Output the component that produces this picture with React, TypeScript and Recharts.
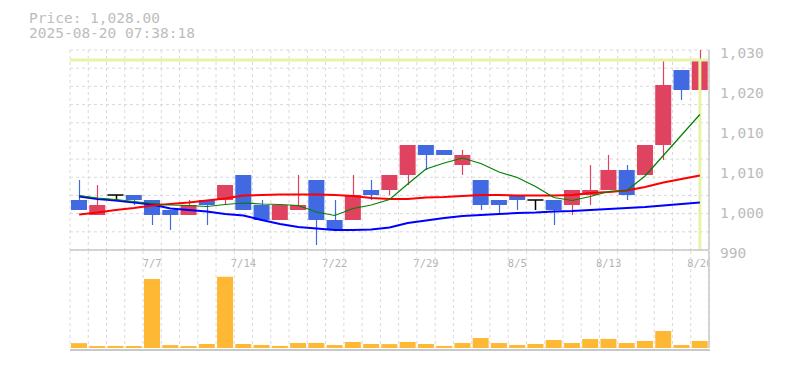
import React from "react";
import {
  ComposedChart,
  Bar,
  Line,
  XAxis,
  YAxis,
  CartesianGrid,
  ReferenceLine,
} from "recharts";

const dates = [
  "7/1", "7/2", "7/3", "7/4", "7/7", "7/8", "7/9", "7/10", "7/11", "7/14",
  "7/15", "7/16", "7/17", "7/18", "7/22", "7/23", "7/24", "7/25", "7/28", "7/29",
  "7/30", "7/31", "8/1", "8/4", "8/5", "8/6", "8/7", "8/8", "8/12", "8/13",
  "8/14", "8/15", "8/18", "8/19", "8/20",
];
const opens = [
  1000, 997, 1001, 1001, 1000, 998, 997, 1000, 1000, 1005,
  999, 996, 998, 1004, 996, 996, 1002, 1002, 1005, 1011,
  1010, 1007, 1004, 1000, 1001, 1000, 1000, 999, 1001, 1002,
  1006, 1005, 1011, 1026, 1022,
];
const highs = [
  1004, 1003, 1001, 1001, 1000, 998, 1000, 1000, 1003, 1005,
  1000, 999, 1005, 1004, 1000, 1005, 1004, 1005, 1011, 1011,
  1010, 1010, 1004, 1000, 1001, 1000, 1000, 1002, 1007, 1009,
  1007, 1011, 1028, 1026, 1030,
];
const lows = [
  998, 997, 1000, 999, 995, 994, 997, 995, 999, 998,
  996, 996, 998, 991, 994, 996, 1000, 1001, 1003, 1006,
  1009, 1005, 998, 997, 998, 998, 995, 997, 999, 1002,
  1000, 1005, 1008, 1020, 1021,
];
const closes = [
  998, 999, 1001, 1000, 997, 997, 999, 999, 1003, 998,
  996, 999, 999, 996, 994, 1001, 1001, 1005, 1011, 1009,
  1009, 1009, 999, 999, 1000, 1000, 998, 1002, 1002, 1006,
  1001, 1011, 1023, 1022, 1028,
];
const ma5 = [
  1000.9, 1000.4, 1000.1, 999.7, 999.3, 999.0, 998.9, 998.7, 999.1, 999.4,
  999.2, 999.1, 998.9, 997.6, 996.9, 998.3, 999.0, 1000.1, 1003.2, 1006.2,
  1007.4, 1008.4, 1007.3, 1005.6, 1004.5, 1002.7, 1000.5, 999.9, 1000.7, 1001.7,
  1001.9, 1004.8, 1008.9, 1013.0, 1017.1,
];
const ma25 = [
  997.1, 997.5, 998.0, 998.4, 998.9, 999.2, 999.5, 999.9, 1000.3, 1000.9,
  1001.0, 1001.1, 1001.1, 1001.1, 1001.0, 1000.8, 1000.4, 1000.2, 1000.2, 1000.5,
  1000.6, 1000.8, 1001.0, 1001.0, 1000.9, 1000.9, 1000.9, 1001.0, 1001.4, 1001.6,
  1001.9, 1002.6, 1003.5, 1004.2, 1004.9,
];
const ma75 = [
  1000.7, 1000.2, 999.9, 999.5, 999.1, 998.3, 998.0, 997.7, 997.2, 996.9,
  996.0, 995.2, 994.6, 994.3, 994.0, 994.0, 994.1, 994.5, 995.4, 995.9,
  996.4, 996.8, 997.0, 997.2, 997.4, 997.5, 997.7, 997.8, 998.0, 998.2,
  998.4, 998.6, 998.9, 999.2, 999.5,
];
const volumes = [
  200, 80, 85, 80, 2850, 120, 80, 165, 2940, 165,
  125, 85, 205, 210, 125, 250, 165, 160, 250, 165,
  85, 205, 410, 205, 125, 165, 330, 205, 370, 375,
  205, 290, 700, 125, 290,
];
const xLabels = ["7/7", "7/14", "7/22", "7/29", "8/5", "8/13", "8/20"];
const priceTicks = [990, 998, 1006, 1014, 1022, 1030];
const currentPrice = 1028;
const timestamp = "2025-08-20 07:38:18";

const upColor = "#E0435F";
const downColor = "#4169E1";
const volColor = "#FFB833";
const gridColor = "#dadada";
const frameColor = "#c8c8c8";
const priceLineColor = "#e5f4a8";
const mono = "'DejaVu Sans Mono', monospace";

const data = dates.map((date, i) => ({
  date,
  open: opens[i],
  high: highs[i],
  low: lows[i],
  close: closes[i],
  ma5: ma5[i],
  ma25: ma25[i],
  ma75: ma75[i],
  volume: volumes[i],
}));

// grid lines sit on the band edges, not on the ticks
const vGen = ({ offset }: any) =>
  Array.from({ length: dates.length + 1 }, (_, i) => offset.left + (i * offset.width) / dates.length);
const hGen = ({ offset }: any) =>
  Array.from({ length: 12 }, (_, i) => offset.top + (i * offset.height) / 11);

function Candle(props: any) {
  const { x, y, width, height, payload } = props;
  const { open, close, high, low } = payload;
  const top = Math.min(y, y + height);
  const h = Math.abs(height);
  const ppu = h / (high - low);
  const py = (p: number) => top + (high - p) * ppu;
  const cx = Math.round(x + width / 2) + 0.5;
  if (open === close) {
    return (
      <g>
        <line x1={cx} x2={cx} y1={py(high)} y2={py(low)} stroke="#000" strokeWidth={1.5} />
        <line x1={x} x2={x + width} y1={py(open)} y2={py(open)} stroke="#000" strokeWidth={1.5} />
      </g>
    );
  }
  const color = close > open ? upColor : downColor;
  const bTop = py(Math.max(open, close));
  const bBot = py(Math.min(open, close));
  return (
    <g>
      <line x1={cx} x2={cx} y1={py(high)} y2={py(low)} stroke={color} strokeWidth={1.2} />
      <rect x={x} y={bTop} width={width} height={bBot - bTop} fill={color} />
    </g>
  );
}

function DateTick(props: any) {
  const { x, y, payload, index } = props;
  return (
    <g>
      {index === 0 && (
        <defs>
          <clipPath id="xlabclip">
            <rect x={70} y={240} width={639} height={40} />
          </clipPath>
        </defs>
      )}
      {xLabels.includes(payload.value) && (
        <text
          x={x}
          y={y + 16.5}
          textAnchor="middle"
          fill="#b4b4b4"
          fontSize={10.5}
          fontFamily={mono}
          clipPath="url(#xlabclip)"
        >
          {payload.value}
        </text>
      )}
    </g>
  );
}

function PriceTick(props: any) {
  const { x, y, payload } = props;
  const label = (Math.round(payload.value / 10) * 10).toLocaleString("en-US");
  return (
    <text x={x + 11} y={y + 3} dy="0.355em" textAnchor="start" fill="#bbbbbb" fontSize={14.5} fontFamily={mono}>
      {label}
    </text>
  );
}

export default function App() {
  return (
    <div style={{ position: "absolute", left: 0, top: 0, width: 785, height: 370, background: "#fff" }}>
      <svg width={300} height={45} style={{ position: "absolute", left: 0, top: 0 }}>
        <text x={29} y={23} fill="#bdbdbd" fontSize={14.5} fontFamily={mono}>
          {"Price: " + currentPrice.toLocaleString("en-US", { minimumFractionDigits: 2 })}
        </text>
        <text x={29} y={37.5} fill="#bdbdbd" fontSize={14.5} fontFamily={mono}>
          {timestamp}
        </text>
      </svg>

      <div style={{ position: "absolute", left: 0, top: 0 }}>
        <ComposedChart width={785} height={280} data={data} margin={{ top: 50, right: 0, bottom: 0, left: 70 }}>
          <CartesianGrid
            stroke={gridColor}
            strokeDasharray="3 3"
            verticalCoordinatesGenerator={vGen}
            horizontalCoordinatesGenerator={hGen}
          />
          <XAxis
            dataKey="date"
            interval={0}
            height={30}
            tickSize={0}
            tickMargin={0}
            tickLine={false}
            axisLine={{ stroke: frameColor, strokeWidth: 1.5 }}
            tick={<DateTick />}
          />
          <YAxis
            orientation="right"
            width={76}
            domain={[990, 1030]}
            ticks={priceTicks}
            allowDataOverflow
            tickSize={0}
            tickMargin={0}
            tickLine={false}
            axisLine={{ stroke: frameColor, strokeWidth: 1.5 }}
            tick={<PriceTick />}
          />
          <ReferenceLine y={currentPrice} stroke={priceLineColor} strokeWidth={3} />
          <ReferenceLine
            segment={[
              { x: dates[dates.length - 1], y: currentPrice },
              { x: dates[dates.length - 1], y: 990 },
            ]}
            stroke={priceLineColor}
            strokeWidth={3}
          />
          <Line dataKey="ma75" stroke="#0000ff" strokeWidth={2} dot={false} activeDot={false} isAnimationActive={false} />
          <Line dataKey="ma25" stroke="#ff0000" strokeWidth={2} dot={false} activeDot={false} isAnimationActive={false} />
          <Line dataKey="ma5" stroke="#008000" strokeWidth={1.2} dot={false} activeDot={false} isAnimationActive={false} />
          <Bar
            dataKey={(d: any) => [d.low, d.high]}
            barSize={16}
            shape={<Candle />}
            isAnimationActive={false}
          />
        </ComposedChart>
      </div>

      <div style={{ position: "absolute", left: 0, top: 251 }}>
        <ComposedChart width={785} height={99} data={data} margin={{ top: 0, right: 0, bottom: 2, left: 70 }}>
          <CartesianGrid
            stroke={gridColor}
            strokeDasharray="3 3"
            horizontal={false}
            verticalCoordinatesGenerator={vGen}
          />
          <XAxis dataKey="date" hide />
          <YAxis
            orientation="right"
            width={76}
            domain={[0, 4000]}
            tick={false}
            tickLine={false}
            axisLine={{ stroke: frameColor, strokeWidth: 1.5 }}
          />
          <Bar dataKey="volume" barSize={16} fill={volColor} isAnimationActive={false} />
        </ComposedChart>
      </div>
      <div style={{ position: "absolute", left: 70, top: 349, width: 640, height: 2, background: frameColor }} />
    </div>
  );
}
